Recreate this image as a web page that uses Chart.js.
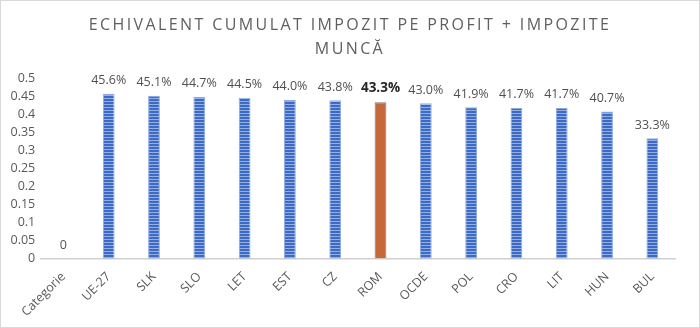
<!DOCTYPE html>
<html lang="ro">
<head>
<meta charset="UTF-8">
<title>Echivalent cumulat impozit pe profit + impozite muncă</title>
<script src="https://cdn.jsdelivr.net/npm/chart.js"></script>
<style>
  body { margin: 0; background: #fff; }
  #cadru { position: relative; width: 698px; height: 326px; border: 1px solid #d9d9d9; }
  #titlu {
    position: absolute; top: 11px; left: 0; width: 100%;
    text-align: center; font: 16px "Open Sans", sans-serif;
    letter-spacing: 2.4px; line-height: 24px; color: #5f5f5f;
  }
  canvas { position: absolute; left: 0; top: 0; }
</style>
</head>
<body>
<div id="cadru">
  <canvas id="grafic" width="698" height="326"></canvas>
  <div id="titlu">ECHIVALENT CUMULAT IMPOZIT PE PROFIT + IMPOZITE<br>MUNCĂ</div>
</div>

<script>
  const categorii = ['Categorie', 'UE-27', 'SLK', 'SLO', 'LET', 'EST', 'CZ', 'ROM', 'OCDE', 'POL', 'CRO', 'LIT', 'HUN', 'BUL'];
  const valori = [0, 0.456, 0.451, 0.447, 0.445, 0.440, 0.438, 0.433, 0.430, 0.419, 0.417, 0.417, 0.407, 0.333];
  const evidentiat = 'ROM';

  const canvas = document.getElementById('grafic');
  const ctx = canvas.getContext('2d');

  // hasura orizontala pentru bare
  function hasura() {
    const c = document.createElement('canvas');
    c.width = 4; c.height = 3;
    const g = c.getContext('2d');
    g.fillStyle = '#3d6bc4'; g.fillRect(0, 0, 4, 3);
    g.fillStyle = '#93afe6'; g.fillRect(0, 1, 4, 1);
    return ctx.createPattern(c, 'repeat');
  }
  const model = hasura();

  const culoriFond = categorii.map(c => c === evidentiat ? '#c5683a' : model);
  const culoriMargine = categorii.map(c => c === evidentiat ? '#7f7f7f' : '#8eaadf');

  // etichetele cu valori deasupra barelor
  const eticheteValori = {
    id: 'eticheteValori',
    afterDatasetsDraw(chart) {
      const c = chart.ctx;
      const meta = chart.getDatasetMeta(0);
      c.save();
      c.textAlign = 'center';
      c.textBaseline = 'bottom';
      meta.data.forEach((bara, i) => {
        const v = valori[i];
        const text = v === 0 ? '0' : (v * 100).toFixed(1) + '%';
        if (categorii[i] === evidentiat) {
          c.font = 'bold 13.5px "Open Sans"';
          c.fillStyle = '#262626';
        } else {
          c.font = '12.5px "Open Sans"';
          c.fillStyle = '#505050';
        }
        c.fillText(text, bara.x, bara.y - 7);
      });
      c.restore();
    }
  };

  new Chart(ctx, {
    type: 'bar',
    data: {
      labels: categorii,
      datasets: [{
        data: valori,
        backgroundColor: culoriFond,
        borderColor: culoriMargine,
        borderWidth: 1,
        categoryPercentage: 1,
        barPercentage: 0.26
      }]
    },
    options: {
      responsive: false,
      animation: false,
      layout: { padding: { top: 77, left: 4, right: 24, bottom: 4.5 } },
      plugins: {
        legend: { display: false },
        tooltip: { enabled: false }
      },
      scales: {
        x: {
          grid: { display: false },
          border: { color: '#d0d0d0', width: 1.5 },
          // eticheta rotita "Categorie" poate iesi spre stanga
          afterFit: scale => { scale.paddingLeft = 0; },
          ticks: {
            autoSkip: false,
            minRotation: 45,
            maxRotation: 45,
            color: '#595959',
            font: { family: 'Open Sans', size: 12.5 }
          }
        },
        y: {
          min: 0,
          max: 0.5,
          grid: { display: false, drawTicks: false },
          border: { display: false },
          ticks: {
            stepSize: 0.05,
            padding: 5.5,
            color: '#595959',
            font: { family: 'Open Sans', size: 12.5 },
            callback: v => String(Number(v.toFixed(2)))
          }
        }
      }
    },
    plugins: [eticheteValori]
  });
</script>
</body>
</html>
